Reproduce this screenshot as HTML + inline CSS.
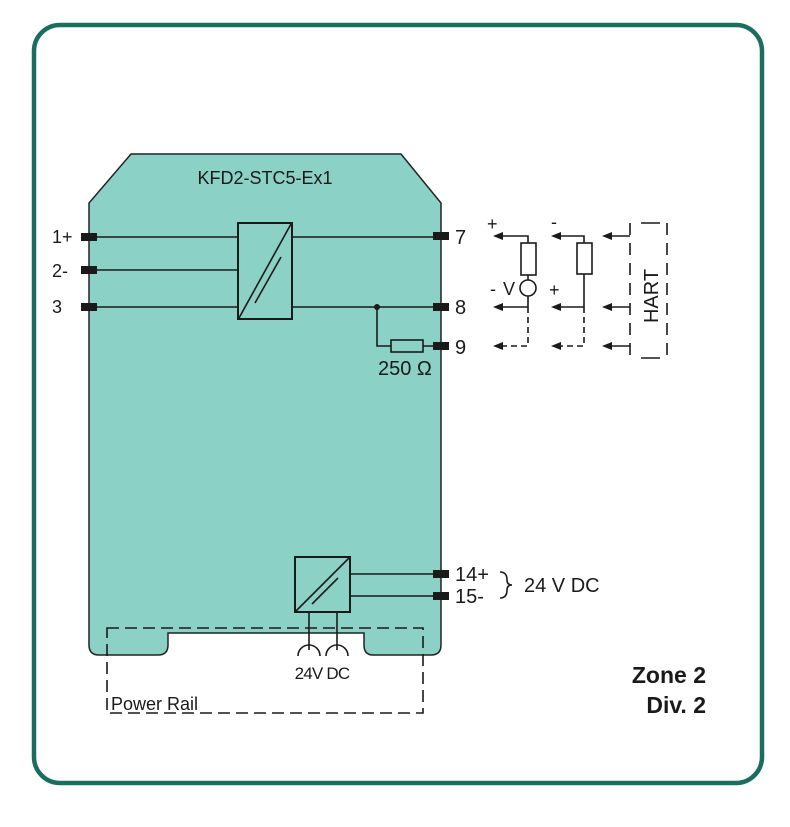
<!DOCTYPE html>
<html><head><meta charset="utf-8"><style>
html,body{margin:0;padding:0;background:#fff;}
svg{display:block;}
text{font-family:"Liberation Sans",Arial,sans-serif;fill:#1a1a1a;}
</style></head><body>
<svg width="790" height="827" viewBox="0 0 790 827" xmlns="http://www.w3.org/2000/svg">
<rect x="34" y="25" width="728" height="758" rx="26" fill="#fff" stroke="#1b6e5f" stroke-width="4.5"/>
<!-- body -->
<path d="M131,154 L401,154 L441,203 L441,645 Q441,655 431,655 L373,655 Q364,655 364,645 L364,633 L168,633 L168,645 Q168,655 158,655 L99,655 Q89,655 89,645 L89,203 Z" fill="#8bd1c6" stroke="#222" stroke-width="1.5"/>
<text x="265" y="184" font-size="18" text-anchor="middle">KFD2-STC5-Ex1</text>
<g stroke="#1a1a1a" stroke-width="1.6" fill="none">
<line x1="90" y1="237" x2="238" y2="237"/>
<line x1="90" y1="270" x2="238" y2="270"/>
<line x1="90" y1="307" x2="238" y2="307"/>
<line x1="292" y1="237" x2="441" y2="237"/>
<line x1="292" y1="307" x2="441" y2="307"/>
<rect x="238" y="223" width="54" height="96" stroke-width="2"/>
<line x1="239" y1="318" x2="291" y2="224"/>
<line x1="255" y1="303" x2="281" y2="257"/>
<polyline points="377,307 377,346 391,346"/>
<rect x="391" y="340" width="32" height="12"/>
<line x1="423" y1="346" x2="441" y2="346"/>
<rect x="295" y="557" width="55" height="55" stroke-width="2"/>
<line x1="296" y1="611" x2="349" y2="558"/>
<line x1="312" y1="604" x2="338" y2="578"/>
<line x1="350" y1="574" x2="441" y2="574"/>
<line x1="350" y1="596" x2="441" y2="596"/>
<line x1="309" y1="612" x2="309" y2="650"/>
<line x1="337" y1="612" x2="337" y2="650"/>
<path d="M298,656 A11,11 0 0 1 320,656"/>
<path d="M326,656 A11,11 0 0 1 348,656"/>
<rect x="107" y="628" width="316" height="85" stroke-dasharray="12,6"/>
</g>
<circle cx="377" cy="307" r="3" fill="#1a1a1a"/>
<g fill="#1a1a1a">
<rect x="81" y="233" width="16" height="8"/><rect x="81" y="266" width="16" height="8"/><rect x="81" y="303" width="16" height="8"/>
<rect x="433" y="232" width="16" height="8"/><rect x="433" y="303" width="16" height="8"/><rect x="433" y="342" width="16" height="8"/>
<rect x="433" y="570" width="16" height="8"/><rect x="433" y="592" width="16" height="8"/>
</g>
<g font-size="18">
<text x="52" y="243">1+</text><text x="52" y="277">2-</text><text x="52" y="313">3</text>
</g>
<g font-size="20">
<text x="455" y="244">7</text><text x="455" y="314">8</text><text x="455" y="354">9</text>
<text x="378" y="375">250 Ω</text>
<text x="455" y="581">14+</text><text x="455" y="603">15-</text>
<text x="524" y="592">24 V DC</text>
</g>
<path d="M500,572 Q507,572 507,580 Q507,585 512,585 Q507,585 507,590 Q507,598 500,598" fill="none" stroke="#1a1a1a" stroke-width="1.6"/>
<text x="322" y="679" font-size="17" text-anchor="middle" letter-spacing="-0.8">24V DC</text>
<text x="111" y="710" font-size="18">Power Rail</text>
<text x="706" y="683" font-size="23" font-weight="bold" text-anchor="end">Zone 2</text>
<text x="706" y="713" font-size="23" font-weight="bold" text-anchor="end">Div. 2</text>
<g stroke="#1a1a1a" stroke-width="1.6" fill="none">
<polyline points="528,243 528,236 502,236"/>
<rect x="521" y="243" width="15" height="32"/>
<line x1="528" y1="275" x2="528" y2="280"/>
<circle cx="528" cy="288" r="8"/>
<polyline points="528,296 528,307 502,307"/>
<polyline points="528,307 528,346 502,346" stroke-dasharray="6,4"/>
<polyline points="584,243 584,236 560,236"/>
<rect x="577" y="243" width="15" height="31"/>
<polyline points="584,274 584,307 560,307"/>
<polyline points="584,307 584,346 560,346" stroke-dasharray="6,4"/>
<line x1="630" y1="236" x2="610" y2="236"/>
<line x1="630" y1="307" x2="610" y2="307"/>
<line x1="630" y1="346" x2="610" y2="346"/>
<line x1="630" y1="223" x2="630" y2="357" stroke-dasharray="12,8"/>
<polyline points="641,223 660,223" />
<polyline points="641,358 660,358" />
<line x1="667" y1="223" x2="667" y2="357" stroke-dasharray="12,8"/>
</g>
<g fill="#1a1a1a">
<polygon points="493,236 503,232 503,240"/><polygon points="493,307 503,303 503,311"/><polygon points="493,346 503,342 503,350"/>
<polygon points="551,236 561,232 561,240"/><polygon points="551,307 561,303 561,311"/><polygon points="551,346 561,342 561,350"/>
<polygon points="602,236 612,232 612,240"/><polygon points="602,307 612,303 612,311"/><polygon points="602,346 612,342 612,350"/>
</g>
<g font-size="18">
<text x="487" y="230">+</text><text x="551" y="228">-</text>
<text x="490" y="295">-</text><text x="503" y="295">V</text><text x="549" y="296">+</text>
</g>
<text transform="translate(658,296) rotate(-90)" font-size="20" text-anchor="middle">HART</text>
</svg>
</body></html>
